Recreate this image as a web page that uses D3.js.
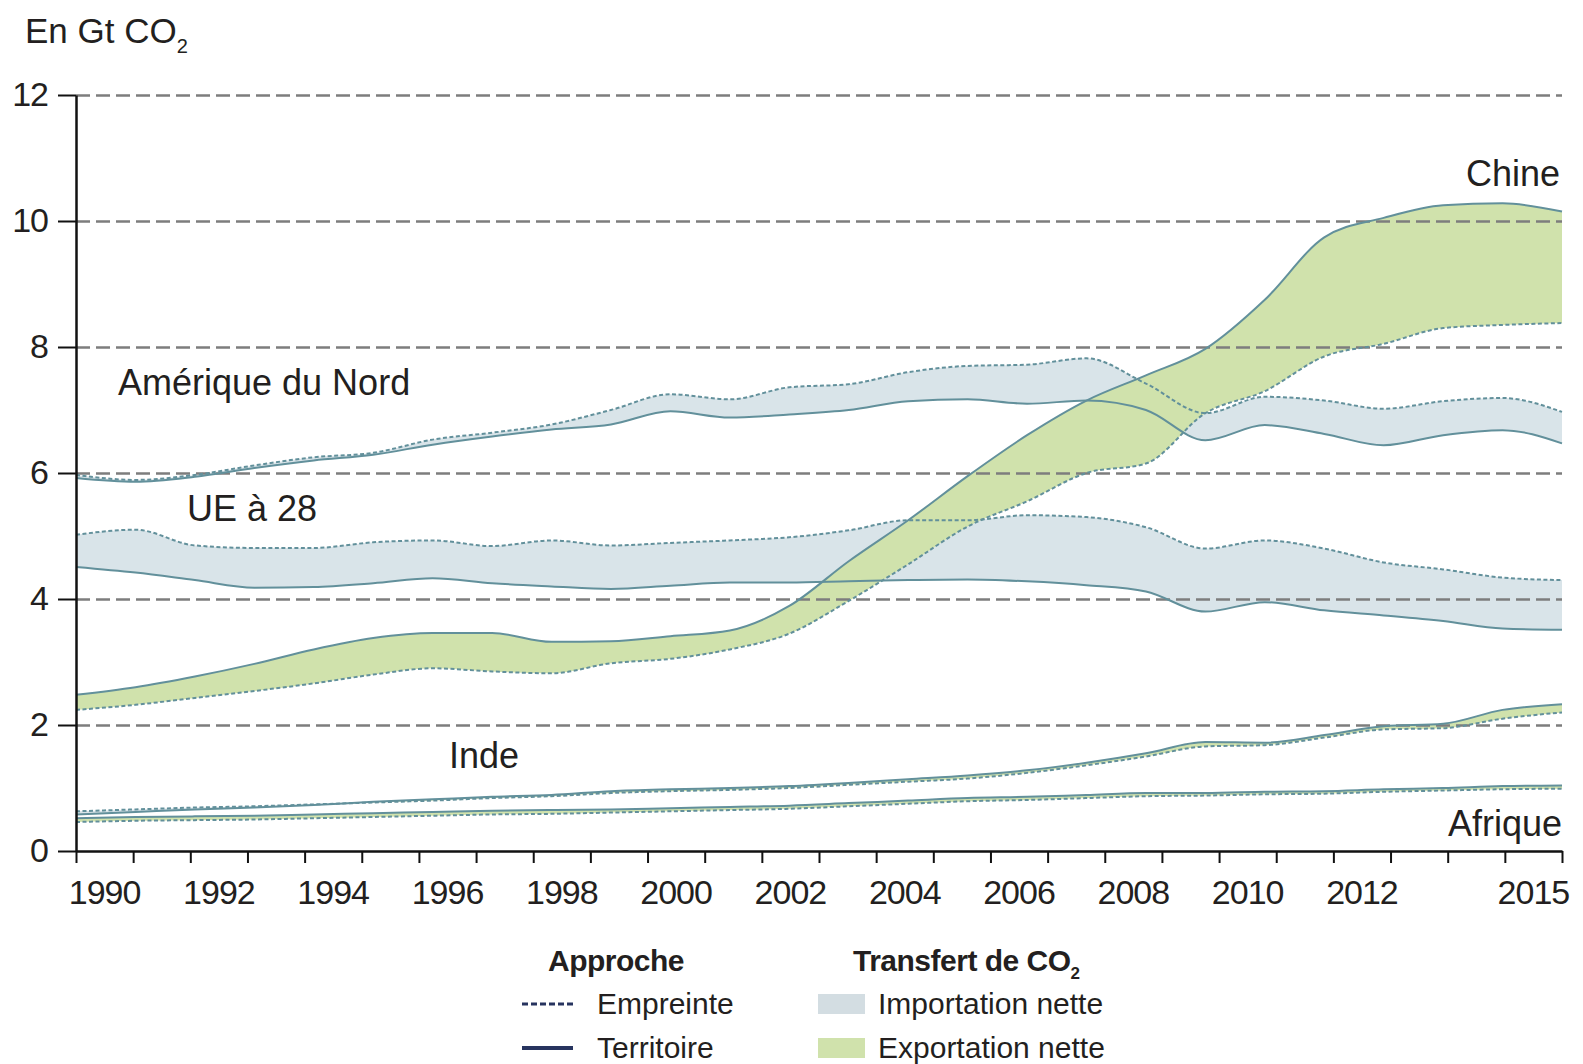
<!DOCTYPE html>
<html>
<head>
<meta charset="utf-8">
<script src="https://cdn.jsdelivr.net/npm/d3@7"></script>
<style>
  body { margin: 0; background: #fff; }
  svg text { font-family: "Liberation Sans", Arial, sans-serif; fill: #231f20; }
</style>
</head>
<body>
<svg id="chart" width="1583" height="1064"></svg>
<script>
// annual values, Gt CO2
const years = [1990, 1991, 1992, 1993, 1994, 1995, 1996, 1997, 1998, 1999, 2000, 2001, 2002,
  2003, 2004, 2005, 2006, 2007, 2008, 2009, 2010, 2011, 2012, 2013, 2014, 2015];
const yearTickLabels = [1990, 1992, 1994, 1996, 1998, 2000, 2002, 2004, 2006, 2008, 2010, 2012, 2015];
const yTicks = [0, 2, 4, 6, 8, 10, 12];

const chinaTerritoire = [2.48, 2.60, 2.77, 2.97, 3.20, 3.38, 3.46, 3.46, 3.32, 3.33, 3.41, 3.50, 3.89,
  4.60, 5.25, 5.95, 6.60, 7.15, 7.55, 7.97, 8.75, 9.74, 10.05, 10.25, 10.28, 10.15];
const chinaEmpreinte = [2.24, 2.32, 2.43, 2.54, 2.66, 2.80, 2.90, 2.85, 2.82, 2.98, 3.05, 3.20, 3.45,
  3.97, 4.55, 5.15, 5.55, 6.00, 6.15, 6.95, 7.30, 7.85, 8.05, 8.30, 8.35, 8.38];

const naTerritoire = [5.92, 5.86, 5.94, 6.08, 6.20, 6.29, 6.45, 6.58, 6.69, 6.77, 6.98, 6.88, 6.93,
  7.00, 7.14, 7.17, 7.10, 7.15, 7.00, 6.52, 6.76, 6.62, 6.44, 6.60, 6.68, 6.47];
const naEmpreinte = [5.97, 5.89, 5.97, 6.12, 6.25, 6.32, 6.53, 6.64, 6.77, 7.00, 7.25, 7.17, 7.36,
  7.41, 7.60, 7.70, 7.72, 7.82, 7.42, 6.95, 7.21, 7.15, 7.02, 7.14, 7.19, 6.97];

const euTerritoire = [4.51, 4.42, 4.30, 4.18, 4.19, 4.25, 4.33, 4.25, 4.20, 4.16, 4.21, 4.26, 4.26,
  4.28, 4.30, 4.31, 4.28, 4.22, 4.12, 3.80, 3.95, 3.82, 3.74, 3.65, 3.53, 3.51];
const euEmpreinte = [5.02, 5.10, 4.85, 4.81, 4.81, 4.90, 4.93, 4.84, 4.93, 4.85, 4.89, 4.93, 4.98,
  5.09, 5.25, 5.25, 5.33, 5.30, 5.14, 4.80, 4.93, 4.80, 4.58, 4.47, 4.34, 4.30];

const indeTerritoire = [0.58, 0.62, 0.66, 0.69, 0.73, 0.78, 0.82, 0.86, 0.89, 0.95, 0.98, 1.00, 1.03,
  1.08, 1.14, 1.20, 1.28, 1.40, 1.55, 1.73, 1.72, 1.84, 1.98, 2.02, 2.24, 2.33];
const indeEmpreinte = [0.63, 0.66, 0.69, 0.71, 0.74, 0.77, 0.80, 0.84, 0.87, 0.92, 0.95, 0.97, 1.00,
  1.05, 1.10, 1.15, 1.24, 1.36, 1.50, 1.66, 1.68, 1.80, 1.93, 1.95, 2.10, 2.20];

const afriqueTerritoire = [0.52, 0.54, 0.55, 0.56, 0.58, 0.60, 0.62, 0.64, 0.65, 0.66, 0.68, 0.70, 0.72,
  0.76, 0.80, 0.84, 0.86, 0.89, 0.92, 0.92, 0.94, 0.95, 0.98, 1.00, 1.03, 1.04];
const afriqueEmpreinte = [0.46, 0.48, 0.49, 0.50, 0.52, 0.54, 0.56, 0.58, 0.59, 0.61, 0.63, 0.65, 0.67,
  0.71, 0.75, 0.79, 0.81, 0.84, 0.87, 0.88, 0.90, 0.91, 0.94, 0.96, 0.98, 0.99];

const regions = [
  { name: "Amérique du Nord", territoire: naTerritoire, empreinte: naEmpreinte },
  { name: "UE à 28", territoire: euTerritoire, empreinte: euEmpreinte },
  { name: "Afrique", territoire: afriqueTerritoire, empreinte: afriqueEmpreinte },
  { name: "Inde", territoire: indeTerritoire, empreinte: indeEmpreinte },
  { name: "Chine", territoire: chinaTerritoire, empreinte: chinaEmpreinte },
];

const importColor = "#d9e4e9",
  exportColor = "#d0e2ac",
  lineColor = "#62909b",
  legendLine = "#27345f";

const margin = { top: 95, right: 21, bottom: 213, left: 76 },
  width = 1583 - margin.left - margin.right,
  height = 1064 - margin.top - margin.bottom;

const svg = d3.select("#chart");
const g = svg.append("g").attr("transform", "translate(" + margin.left + "," + margin.top + ")");

const xScale = d3.scaleLinear().domain([1990, 2015]).range([0, width]);
const xAxisScale = d3.scaleLinear().domain([1990, 2016]).range([0, width]);
const yScale = d3.scaleLinear().domain([0, 12]).range([height, 0]);
const curve = d3.curveMonotoneX;

const defs = svg.append("defs");

// bands: blue where empreinte > territoire, green where territoire > empreinte
const band = (r) =>
  d3.area()
    .curve(curve)
    .x((d, i) => xScale(years[i]))
    .y0((d, i) => yScale(r.territoire[i]))
    .y1((d, i) => yScale(r.empreinte[i]));

regions.forEach((r, k) => {
  defs.append("clipPath").attr("id", "above" + k)
    .append("path")
    .attr("d", d3.area().curve(curve).x((d, i) => xScale(years[i])).y0((d) => yScale(d)).y1(-5)(r.territoire));
  defs.append("clipPath").attr("id", "below" + k)
    .append("path")
    .attr("d", d3.area().curve(curve).x((d, i) => xScale(years[i])).y0((d) => yScale(d)).y1(height + 5)(r.territoire));
});

const fills = g.append("g");
regions.forEach((r, k) => {
  fills.append("path").attr("d", band(r)(years)).attr("fill", importColor)
    .attr("clip-path", "url(#above" + k + ")");
  fills.append("path").attr("d", band(r)(years)).attr("fill", exportColor)
    .attr("clip-path", "url(#below" + k + ")");
});

// dashed gridlines
const grid = g.append("g")
  .call(d3.axisLeft(yScale).tickValues(yTicks.slice(1)).tickSize(-width).tickFormat(""));
grid.select(".domain").remove();
grid.selectAll("line")
  .attr("stroke", "#7d7d7d")
  .attr("stroke-width", 2.5)
  .attr("stroke-dasharray", "14,6");

// region lines
const lines = g.append("g");
regions.forEach((r) => {
  const line = d3.line().curve(curve).x((d, i) => xScale(years[i])).y((d) => yScale(d));
  lines.append("path").attr("d", line(r.territoire))
    .attr("fill", "none").attr("stroke", lineColor).attr("stroke-width", 2);
  lines.append("path").attr("d", line(r.empreinte))
    .attr("fill", "none").attr("stroke", lineColor).attr("stroke-width", 2)
    .attr("stroke-dasharray", "4,2.5");
});

// axes
const yAxisG = g.append("g")
  .call(d3.axisLeft(yScale).tickValues(yTicks).tickSize(18).tickSizeOuter(0).tickPadding(10));
yAxisG.selectAll("text").style("font-size", "34px").attr("letter-spacing", "-1px");

const xAxisG = g.append("g")
  .attr("transform", "translate(0," + height + ")")
  .call(d3.axisBottom(xAxisScale).tickValues(years.concat([2016])).tickSize(12).tickSizeOuter(0).tickFormat(""));

[yAxisG, xAxisG].forEach((a) => {
  a.selectAll("line").attr("stroke", "#111").attr("stroke-width", 2);
  a.select(".domain").attr("stroke", "#111").attr("stroke-width", 2.5);
});

// year labels sit under the middle of each year interval
xAxisG.selectAll(".yearLabel")
  .data(yearTickLabels)
  .enter()
  .append("text")
  .attr("class", "yearLabel")
  .attr("x", (d) => xAxisScale(d + 0.5))
  .attr("y", 53)
  .attr("text-anchor", "middle")
  .attr("letter-spacing", "-1px")
  .style("font-size", "34px")
  .style("fill", "#231f20")
  .text((d) => d);

// unit
const unit = svg.append("text").attr("x", 25).attr("y", 43).style("font-size", "35px");
unit.append("tspan").text("En Gt CO");
unit.append("tspan").attr("dy", 10).style("font-size", "20px").text("2");

// region labels
const labels = [
  { text: "Chine", x: 1560, y: 186, anchor: "end" },
  { text: "Amérique du Nord", x: 118, y: 395, anchor: "start" },
  { text: "UE à 28", x: 187, y: 521, anchor: "start" },
  { text: "Inde", x: 449, y: 768, anchor: "start" },
  { text: "Afrique", x: 1562, y: 836, anchor: "end" },
];
svg.append("g").selectAll("text")
  .data(labels)
  .enter()
  .append("text")
  .attr("x", (d) => d.x)
  .attr("y", (d) => d.y)
  .attr("text-anchor", (d) => d.anchor)
  .style("font-size", "36px")
  .text((d) => d.text);

// legend
const legend = svg.append("g");
legend.append("text").attr("x", 548).attr("y", 971)
  .style("font-size", "30px").style("font-weight", "bold").attr("letter-spacing", "-0.5px")
  .text("Approche");
const lt = legend.append("text").attr("x", 853).attr("y", 971)
  .style("font-size", "30px").style("font-weight", "bold").attr("letter-spacing", "-0.5px");
lt.append("tspan").text("Transfert de CO");
lt.append("tspan").attr("dy", 8).style("font-size", "17px").text("2");

legend.append("line").attr("x1", 522).attr("x2", 573).attr("y1", 1004).attr("y2", 1004)
  .attr("stroke", legendLine).attr("stroke-width", 3).attr("stroke-dasharray", "6,3");
legend.append("line").attr("x1", 522).attr("x2", 573).attr("y1", 1048).attr("y2", 1048)
  .attr("stroke", legendLine).attr("stroke-width", 4);
legend.append("rect").attr("x", 818).attr("y", 994).attr("width", 47).attr("height", 20).attr("fill", "#d3dde2");
legend.append("rect").attr("x", 818).attr("y", 1038).attr("width", 47).attr("height", 20).attr("fill", exportColor);

const legendItems = [
  { text: "Empreinte", x: 597, y: 1014 },
  { text: "Territoire", x: 597, y: 1058 },
  { text: "Importation nette", x: 878, y: 1014 },
  { text: "Exportation nette", x: 878, y: 1058 },
];
legend.selectAll(".item")
  .data(legendItems)
  .enter()
  .append("text")
  .attr("class", "item")
  .attr("x", (d) => d.x)
  .attr("y", (d) => d.y)
  .style("font-size", "30px")
  .text((d) => d.text);
</script>
</body>
</html>
